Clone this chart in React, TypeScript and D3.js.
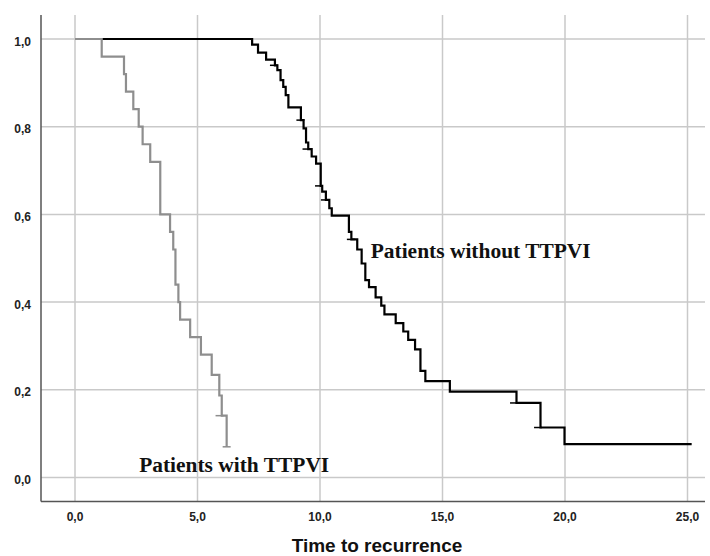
import React from "react";
import * as d3 from "d3";

// Kaplan-Meier steps: [time, survival]
const withTTPVI: [number, number][] = [
  [0, 1.0], [1.09, 0.96], [2.0, 0.92], [2.08, 0.88], [2.38, 0.84], [2.6, 0.8],
  [2.76, 0.76], [3.07, 0.72], [3.48, 0.6], [3.88, 0.56], [4.01, 0.52], [4.1, 0.44],
  [4.22, 0.4], [4.29, 0.36], [4.7, 0.32], [5.14, 0.28], [5.58, 0.234], [5.89, 0.187],
  [5.99, 0.141], [6.19, 0.07],
];
const withCensored: [number, number][] = [[5.9, 0.141], [6.19, 0.07]];

const withoutTTPVI: [number, number][] = [
  [0, 1.0], [7.23, 0.987], [7.47, 0.969], [7.8, 0.953], [8.16, 0.94], [8.26, 0.929],
  [8.39, 0.906], [8.5, 0.891], [8.6, 0.872], [8.71, 0.844], [9.22, 0.815], [9.33, 0.796],
  [9.43, 0.764], [9.52, 0.749], [9.66, 0.732], [9.84, 0.716], [10.03, 0.665], [10.09, 0.652],
  [10.24, 0.633], [10.38, 0.614], [10.48, 0.597], [11.18, 0.56], [11.28, 0.543],
  [11.52, 0.52], [11.7, 0.488], [11.85, 0.45], [12.0, 0.434], [12.27, 0.411], [12.5, 0.392],
  [12.63, 0.372], [13.09, 0.352], [13.4, 0.333], [13.6, 0.314], [13.88, 0.292], [14.1, 0.243],
  [14.3, 0.22], [15.3, 0.196], [18.02, 0.17], [19.0, 0.114], [19.98, 0.076], [25.17, 0.076],
];
const withoutCensored: [number, number][] = [
  [8.12, 0.94], [9.2, 0.815], [9.45, 0.749], [9.96, 0.665], [10.2, 0.633], [11.26, 0.543],
  [17.92, 0.17], [18.9, 0.114],
];

const xTicks = [0, 5, 10, 15, 20, 25];
const yTicks = [0, 0.2, 0.4, 0.6, 0.8, 1.0];
const xTitle = "Time to recurrence";
const labelWith = "Patients with TTPVI";
const labelWithout = "Patients without TTPVI";

const fmt = (v: number) => v.toFixed(1).replace(".", ",");

export default function App() {
  const W = 710, H = 556;
  const left = 41, right = 705, top = 15, bottom = 501.5;
  const x = d3.scaleLinear().domain([0, 25]).range([75, 687.5]);
  const y = d3.scaleLinear().domain([0, 1]).range([477.5, 39]);
  const line = d3
    .line<[number, number]>()
    .x((d) => x(d[0]))
    .y((d) => y(d[1]))
    .curve(d3.curveStepAfter);
  const gridColor = "#c9c9c9";
  const sans = "'Liberation Sans', Arial, sans-serif";
  const serif = "'Liberation Serif', 'Times New Roman', serif";

  return (
    <svg
      width={W}
      height={H}
      style={{ position: "absolute", left: 0, top: 0, background: "#fff" }}
    >
      <rect x={0} y={0} width={W} height={H} fill="#fff" />
      {xTicks.map((t) => (
        <line key={"gx" + t} x1={x(t)} x2={x(t)} y1={top} y2={bottom} stroke={gridColor} strokeWidth={1.5} />
      ))}
      {yTicks.map((t) => (
        <line key={"gy" + t} x1={left} x2={right} y1={y(t)} y2={y(t)} stroke={gridColor} strokeWidth={1.5} />
      ))}
      <line x1={left} x2={left} y1={top} y2={bottom} stroke="#555" strokeWidth={1.5} />
      <line x1={left} x2={right} y1={bottom} y2={bottom} stroke="#555" strokeWidth={1.5} />

      {yTicks.map((t) => (
        <text key={"ty" + t} x={31} y={y(t) + 6.5} textAnchor="end" fontFamily={sans} fontWeight="bold" fontSize={12} fill="#222">
          {fmt(t)}
        </text>
      ))}
      {xTicks.map((t) => (
        <text key={"tx" + t} x={x(t)} y={521} textAnchor="middle" fontFamily={sans} fontWeight="bold" fontSize={12} fill="#222">
          {fmt(t)}
        </text>
      ))}
      <text x={377} y={552} textAnchor="middle" fontFamily={sans} fontWeight="bold" fontSize={19} fill="#111">
        {xTitle}
      </text>

      <path d={line(withoutTTPVI) || ""} fill="none" stroke="#000" strokeWidth={2.2} />
      {withoutCensored.map((d, i) => (
        <line key={"cb" + i} x1={x(d[0]) - 4} x2={x(d[0]) + 4} y1={y(d[1])} y2={y(d[1])} stroke="#000" strokeWidth={1.5} />
      ))}
      <path d={line(withTTPVI) || ""} fill="none" stroke="#8e8e8e" strokeWidth={2.2} />
      {withCensored.map((d, i) => (
        <line key={"cg" + i} x1={x(d[0]) - 4} x2={x(d[0]) + 4} y1={y(d[1])} y2={y(d[1])} stroke="#8e8e8e" strokeWidth={1.5} />
      ))}

      <text x={x(2.62)} y={y(0.013)} fontFamily={serif} fontWeight="bold" fontSize={20.5} fill="#111" textLength={190} lengthAdjust="spacingAndGlyphs">
        {labelWith}
      </text>
      <text x={x(12.07)} y={y(0.5)} fontFamily={serif} fontWeight="bold" fontSize={20.5} fill="#111" textLength={220} lengthAdjust="spacingAndGlyphs">
        {labelWithout}
      </text>
    </svg>
  );
}
